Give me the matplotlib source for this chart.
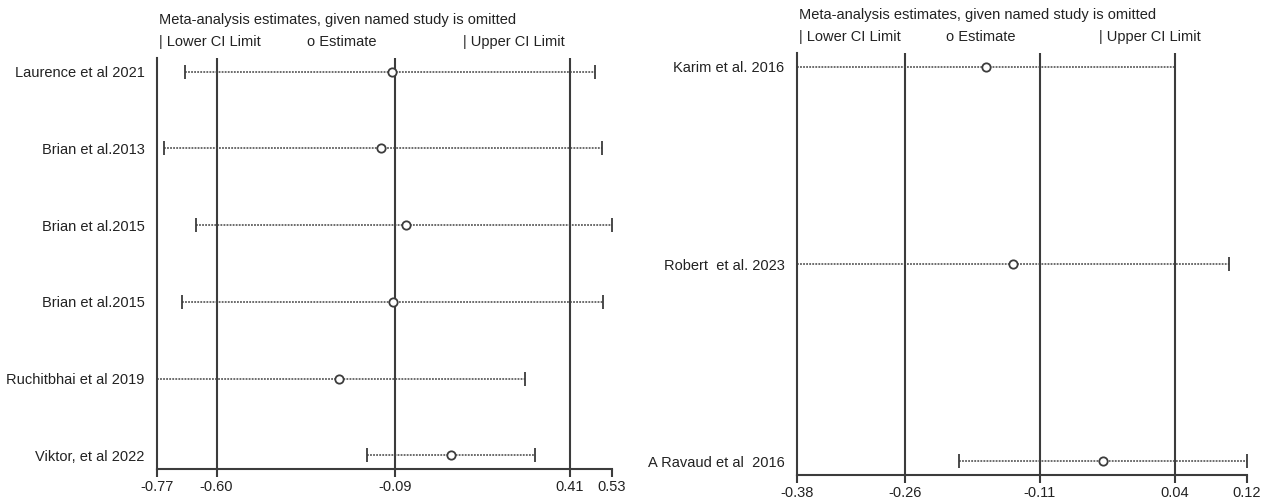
import matplotlib.pyplot as plt
import numpy as np

plt.rcParams['font.family'] = ['Liberation Sans', 'DejaVu Sans']

# left panel: leave-one-out estimates
left_studies = ['Laurence et al 2021', 'Brian et al.2013', 'Brian et al.2015',
                'Brian et al.2015', 'Ruchitbhai et al 2019', 'Viktor, et al 2022']
left_lower = [-0.69, -0.75, -0.66, -0.70, -0.77, -0.17]
left_est = [-0.10, -0.13, -0.06, -0.095, -0.25, 0.07]
left_upper = [0.48, 0.50, 0.53, 0.505, 0.28, 0.31]
left_ticks = [-0.77, -0.60, -0.09, 0.41, 0.53]

# right panel
right_studies = ['Karim et al. 2016', 'Robert  et al. 2023', 'A Ravaud et al  2016']
right_lower = [-0.38, -0.38, -0.20]
right_est = [-0.17, -0.14, -0.04]
right_upper = [0.04, 0.10, 0.12]
right_ticks = [-0.38, -0.26, -0.11, 0.04, 0.12]

W, H = 1279, 504
fig = plt.figure(figsize=(W / 100, H / 100), dpi=100, facecolor='white')

line_c = '#3c3c3c'
text_c = '#222222'
fs = 10.5


def px(x0, y0, x1, y1):
    # pixel box (top-left origin) -> figure fraction rect
    return [x0 / W, 1 - y1 / H, (x1 - x0) / W, (y1 - y0) / H]


def panel(rect, studies, lo, est, hi, ticks, margin, head_y, leg_y):
    ax = fig.add_axes(rect)
    n = len(studies)
    y = np.arange(1, n + 1)
    ax.set_xlim(ticks[0], ticks[-1])
    ax.set_ylim(n + margin, 1 - margin)

    for t in ticks[1:-1]:
        ax.axvline(t, color=line_c, lw=1.5, zorder=1)

    for yi, a, e, b in zip(y, lo, est, hi):
        ax.plot([a, b], [yi, yi], color='#444444', lw=1.1, ls=(0, (1.2, 0.8)), zorder=2)
        ax.plot([a, b], [yi, yi], ls='none', marker='|', ms=10, mew=1.3, color=line_c, zorder=3)
        ax.plot(e, yi, ls='none', marker='o', ms=6, mfc='white', mec=line_c, mew=1.3, zorder=4)

    ax.set_yticks(y)
    ax.set_yticklabels(studies, fontsize=fs, color=text_c)
    ax.tick_params(axis='y', length=0, pad=9)
    ax.set_xticks(ticks)
    ax.set_xticklabels([f'{t:.2f}' for t in ticks], fontsize=fs, color=text_c)
    ax.tick_params(axis='x', length=6, width=1.5, color=line_c, pad=2)

    for s in ['top', 'right']:
        ax.spines[s].set_visible(False)
    for s in ['left', 'bottom']:
        ax.spines[s].set_color(line_c)
        ax.spines[s].set_linewidth(1.5)

    # header and legend above the plot
    ax.text(0.005, head_y, 'Meta-analysis estimates, given named study is omitted',
            transform=ax.transAxes, fontsize=fs, color=text_c, va='center')
    ax.text(0.005, leg_y, '| Lower CI Limit', transform=ax.transAxes,
            fontsize=fs, color=text_c, va='center')
    ax.text(0.33, leg_y, 'o Estimate', transform=ax.transAxes,
            fontsize=fs, color=text_c, va='center')
    ax.text(0.672, leg_y, '| Upper CI Limit', transform=ax.transAxes,
            fontsize=fs, color=text_c, va='center')
    return ax


panel(px(157, 58, 612, 469), left_studies, left_lower, left_est, left_upper,
      left_ticks, 0.18, 1.092, 1.039)
panel(px(797, 53, 1247, 475), right_studies, right_lower, right_est, right_upper,
      right_ticks, 0.07, 1.090, 1.038)

fig.savefig('out.png', dpi=100, facecolor='white')
